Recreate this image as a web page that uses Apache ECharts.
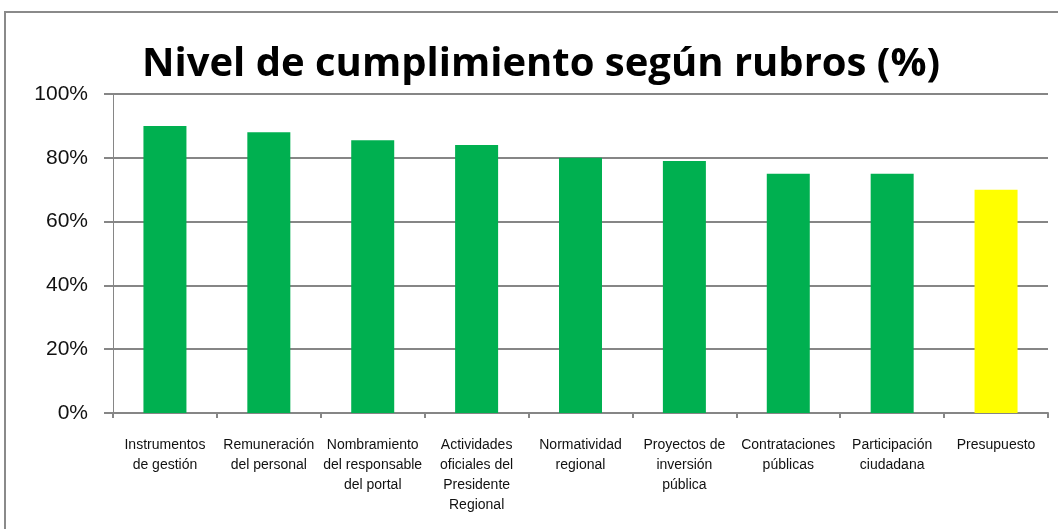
<!DOCTYPE html>
<html><head><meta charset="utf-8">
<script src="https://cdn.jsdelivr.net/npm/echarts@6/dist/echarts.min.js"></script>
<style>
html,body{margin:0;padding:0;background:#fff;overflow:hidden}
#frame{position:absolute;left:4px;top:11px;width:1100px;height:600px;border:2px solid #8a8a8a;box-sizing:border-box}
#c{position:absolute;left:0;top:0;width:1058px;height:529px}
</style></head><body>
<div id="frame"></div>
<div id="c"></div>
<script>
const categories = ["Instrumentos\nde gestión","Remuneración\ndel personal","Nombramiento\ndel responsable\ndel portal","Actividades\noficiales del\nPresidente\nRegional","Normatividad\nregional","Proyectos de\ninversión\npública","Contrataciones\npúblicas","Participación\nciudadana","Presupuesto"];
const values = [90, 88, 85.5, 84, 80, 79, 75, 75, 70];
const barColors = ["#00b050","#00b050","#00b050","#00b050","#00b050","#00b050","#00b050","#00b050","#ffff00"];
const titleText = "Nivel de cumplimiento según rubros (%)";

const chart = echarts.init(document.getElementById('c'), null, {renderer:'canvas'});
chart.setOption({
  backgroundColor: 'transparent',
  animation: false,
  title: {
    text: titleText, left: 536, top: 40, textAlign: 'center',
    textStyle: {fontFamily: 'Open Sans', fontWeight: 'bold', fontSize: 40, color: '#000'}
  },
  grid: {left: 113, right: 10, top: 94, bottom: 116},
  xAxis: {
    type: 'category', data: categories,
    axisLine: {lineStyle: {color: '#868686', width: 2}},
    axisTick: {show: true, length: 5, lineStyle: {color: '#868686', width: 2}},
    axisLabel: {interval: 0, margin: 22, lineHeight: 20, fontSize: 14, color: '#111', fontFamily: 'Liberation Sans', align: 'center'}
  },
  yAxis: {
    type: 'value', min: 0, max: 100, interval: 20,
    axisLine: {show: true, lineStyle: {color: '#868686', width: 1}},
    axisTick: {show: true, length: 9, lineStyle: {color: '#868686', width: 2}},
    splitLine: {lineStyle: {color: '#868686', width: 2}},
    axisLabel: {formatter: '{value}%', fontSize: 21, color: '#111', margin: 25, fontFamily: 'Liberation Sans'}
  },
  series: [{
    type: 'bar', barWidth: 43,
    data: values.map((v,i)=>({value: v, itemStyle: {color: barColors[i]}}))
  }]
});
</script>
</body></html>
